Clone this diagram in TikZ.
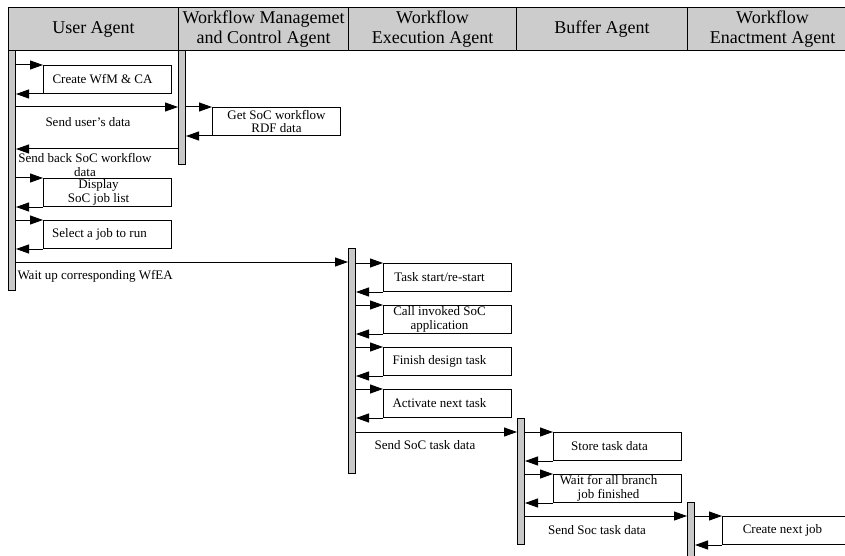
\documentclass[tikz,border=0pt]{standalone}
\usepackage{fontspec}
\setmainfont{Liberation Serif}
\usepackage{tikz}
\usetikzlibrary{arrows.meta}
\definecolor{hdgray}{RGB}{204,204,204}
\definecolor{bargray}{RGB}{200,200,200}
\tikzset{
every picture/.style={line width=1pt},
head/.style={draw, fill=hdgray, minimum width=170pt, minimum height=43pt, anchor=north west, align=center, inner sep=0pt, font=\fontsize{18}{20}\selectfont},
bar/.style={draw, fill=bargray, minimum width=7pt, inner sep=0pt, anchor=north west},
job/.style={draw, minimum width=128pt, minimum height=28pt, anchor=north west, inner sep=0pt},
txt/.style={align=center, inner sep=0pt, font=\fontsize{13}{13.5}\selectfont},
msg/.style={-{Triangle[length=13pt,width=9pt]}}
}

\begin{document}
\begin{tikzpicture}[x=1pt, y=-1pt]
  \useasboundingbox (0,0) rectangle (845,556);
  % header row
  \node[head] (hua) at (8,7.5) {User Agent};
  \node[head] (hwfm) at (178,7.5) {Workflow Managemet\\and Control Agent};
  \node[head, minimum width=168pt] (hwfx) at (348,7.5) {Workflow\\Execution Agent};
  \node[head, minimum width=171pt] (hbuf) at (516,7.5) {Buffer Agent};
  \node[head] (hwfe) at (687,7.5) {Workflow\\Enactment Agent};
  % lifelines
  \node[bar, minimum height=239.5pt] (ua) at (8,50.5) {};
  \node[bar, minimum height=113.5pt] (wfm) at (178,50.5) {};
  \node[bar, minimum height=225pt] (wfx) at (348,248) {};
  \node[bar, minimum height=126pt] (buf) at (517,418) {};
  \node[bar, minimum height=70pt] (wfe) at (687,502) {};
  % self calls
  \foreach \b/\n/\x/\y/\dx/\t in {ua/cw/43/65/-5/{Create WfM \& CA},
      ua/dj/43/178/-9/{Display\\SoC job list},
      ua/sj/43/220/-8/{Select a job to run},
      wfm/gs/212/107/0/{Get SoC workflow\\RDF data},
      wfx/ts/383/263/-8/{Task start/re-start},
      wfx/ci/383/305/-8/{Call invoked SoC\\application},
      wfx/fd/383/347/-8/{Finish design task},
      wfx/an/383/389/-8/{Activate next task},
      buf/st/553/432/-8/{Store task data},
      buf/wb/553/474/-9/{Wait for all branch\\job finished},
      wfe/cn/722/516/-4/{Create next job}} {
    \node[job] (\n) at (\x,\y) {};
    \node[txt] (t\n) at ([shift={(\dx,0)}]\n.center) {\t};
    \draw[msg] (\b.east |- \n.north west) -- (\n.north west);
    \draw[msg] (\n.south west) -- (\b.east |- \n.south west);
  }
  % messages between agents
  \coordinate (s1) at (0,107);
  \coordinate (s2) at (0,149);
  \coordinate (s3) at (0,262);
  \coordinate (s4) at (0,432);
  \coordinate (s5) at (0,516);
  \draw[msg] (ua.east |- s1) -- (wfm.west |- s1);
  \draw[msg] (wfm.west |- s2) -- (ua.east |- s2);
  \draw[msg] (ua.east |- s3) -- (wfx.west |- s3);
  \draw[msg] (wfx.east |- s4) -- (buf.west |- s4);
  \draw[msg] (buf.east |- s5) -- (wfe.west |- s5);
  \node[txt] (l1) at (88,122) {Send user's data};
  \node[txt] (l2) at (85,165) {Send back SoC workflow\\data};
  \node[txt, anchor=west] (l3) at (17,276) {Wait up corresponding WfEA};
  \node[txt] (l4) at (425,445) {Send SoC task data};
  \node[txt] (l5) at (597,530) {Send Soc task data};
\end{tikzpicture}
\end{document}
